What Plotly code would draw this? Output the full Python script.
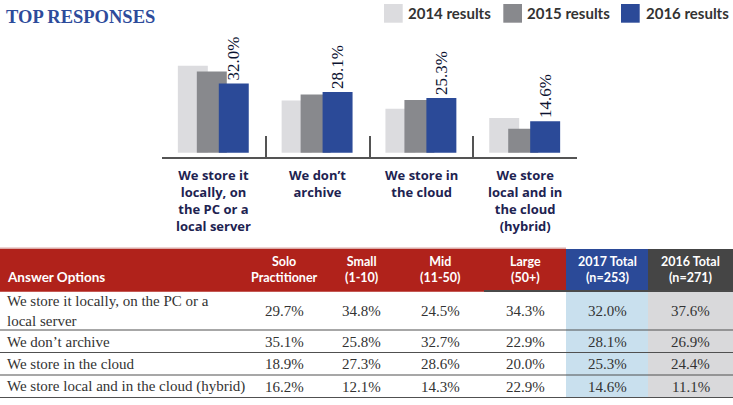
import plotly.graph_objects as go

W, H = 733, 405

# ---------------- data ----------------
categories = ["We store it<br>locally, on<br>the PC or a<br>local server",
              "We don’t<br>archive",
              "We store in<br>the cloud",
              "We store<br>local and in<br>the cloud<br>(hybrid)"]
series_names = ["2014 results", "2015 results", "2016 results"]
results_2014 = [40.3, 24.1, 20.3, 16.1]
results_2015 = [37.6, 26.9, 24.4, 11.1]
results_2016 = [32.0, 28.1, 25.3, 14.6]
series_colors = ["#dcdcdf", "#88898d", "#2b4a98"]

table_header = ["Answer Options", "Solo<br>Practitioner", "Small<br>(1-10)", "Mid<br>(11-50)",
                "Large<br>(50+)", "2017 Total<br>(n=253)", "2016 Total<br>(n=271)"]
answer_options = ["We store it locally, on the PC or a<br>local server",
                  "We don’t archive",
                  "We store in the cloud",
                  "We store local and in the cloud (hybrid)"]
solo = [29.7, 35.1, 18.9, 16.2]
small = [34.8, 25.8, 27.3, 12.1]
mid = [24.5, 32.7, 28.6, 14.3]
large = [34.3, 22.9, 20.0, 22.9]
total_2017 = [32.0, 28.1, 25.3, 14.6]
total_2016 = [37.6, 26.9, 24.4, 11.1]

# ---------------- layout helpers (pixels -> paper) ----------------
def px(x):
    return x / W

def py(y):
    return 1 - y / H

NAVY = "#1e2351"
HDR_FONT = "Lato, sans-serif"
LBL_FONT = "Lato, sans-serif"
CAT_FONT = "Open Sans, sans-serif"
SERIF = "Liberation Serif, serif"

fig = go.Figure()

xs = list(range(len(categories)))
bar_offsets = [-0.3465, -0.1636, 0.0481]
bar_width = 0.2887
for name, vals, col, off in zip(series_names, [results_2014, results_2015, results_2016],
                                series_colors, bar_offsets):
    is_last = name == series_names[-1]
    fig.add_trace(go.Bar(
        x=xs, y=vals, name=name, marker=dict(color=col, line=dict(width=0)),
        offset=off, width=bar_width, showlegend=False,
        texttemplate="%{y:.1f}%" if is_last else None,
        textposition="outside" if is_last else "none",
        textangle=-90, constraintext="none", cliponaxis=False,
        textfont=dict(family=SERIF, size=17, color="#0b1230"),
        hoverinfo="skip",
    ))

fig.update_layout(
    width=W, height=H, autosize=False,
    margin=dict(l=0, r=0, t=0, b=0),
    paper_bgcolor="white", plot_bgcolor="white",
    barmode="overlay",
    xaxis=dict(domain=[px(161.7), px(577.3)], range=[-0.502, 3.502],
               tickvals=[-0.5, 0.5, 1.5, 2.5, 3.5], ticktext=[""] * 5,
               ticks="inside", ticklen=21, tickwidth=1.5, tickcolor="#545454",
               showline=True, linecolor="#545454", linewidth=1.5,
               showgrid=False, zeroline=False, fixedrange=True),
    yaxis=dict(domain=[py(157.2), py(30)], range=[-2.1, 56.8], visible=False,
               showgrid=False, zeroline=False, fixedrange=True),
)

annotations = []
shapes = []

# title
annotations.append(dict(text="<b>TOP RESPONSES</b>", x=px(4), y=py(16.5), xref="paper", yref="paper",
                        xanchor="left", yanchor="middle", showarrow=False,
                        font=dict(family=SERIF, size=18.5, color="#2d4b9b")))

# legend
sw_left = [384, 503.3, 621]
txt_left = [406, 525, 644]
for name, col, sl, tl in zip(series_names, series_colors, sw_left, txt_left):
    shapes.append(dict(type="rect", xref="paper", yref="paper", x0=px(sl), x1=px(sl + 18.7),
                       y0=py(22.7), y1=py(4), fillcolor=col, line=dict(width=0)))
    annotations.append(dict(text=name, x=px(tl), y=py(13), xref="paper", yref="paper",
                            xanchor="left", yanchor="middle", showarrow=False,
                            font=dict(family=LBL_FONT, size=15, color="#333333", weight="bold")))

# category labels (one multi-line label per category, top anchored under the axis)
for i, cat in enumerate(categories):
    annotations.append(dict(text=cat, x=i, xref="x", y=py(164), yref="paper",
                            xanchor="center", yanchor="top", showarrow=False, align="center",
                            font=dict(family=CAT_FONT, size=13, color=NAVY, weight="bold")))

# ---------------- table ----------------
col_widths = [244, 80, 74, 86, 82, 82, 85]
col_edges = [0]
for w in col_widths:
    col_edges.append(col_edges[-1] + w)
hdr_top, hdr_bot = 249, 291
row_bounds = [291, 330, 352.5, 375, 397.5]
hdr_fills = ["#b0221b", "#2b4a98", "#454545"]
body_fills = ["#c9e0ee", "#d9d9db"]

# header backgrounds
shapes.append(dict(type="rect", xref="paper", yref="paper", x0=px(col_edges[0]), x1=px(col_edges[5]),
                   y0=py(hdr_bot + 0.7), y1=py(hdr_top), fillcolor=hdr_fills[0], line=dict(width=0)))
shapes.append(dict(type="rect", xref="paper", yref="paper", x0=px(col_edges[0]), x1=px(col_edges[5]),
                   y0=py(hdr_top), y1=py(hdr_top - 1.5), fillcolor="#dcaaa8", line=dict(width=0)))
for k, c in enumerate([5, 6]):
    shapes.append(dict(type="rect", xref="paper", yref="paper", x0=px(col_edges[c]), x1=px(col_edges[c + 1]),
                       y0=py(hdr_bot), y1=py(hdr_top), fillcolor=hdr_fills[k + 1], line=dict(width=0)))
    shapes.append(dict(type="rect", xref="paper", yref="paper", x0=px(col_edges[c]), x1=px(col_edges[c + 1]),
                       y0=py(row_bounds[-1]), y1=py(row_bounds[0]), fillcolor=body_fills[k], line=dict(width=0)))
shapes.append(dict(type="line", xref="paper", yref="paper", x0=px(col_edges[4]), x1=px(W),
                   y0=py(hdr_bot), y1=py(hdr_bot), line=dict(color="#4a4a4a", width=2)))
for yb in row_bounds[1:]:
    shapes.append(dict(type="line", xref="paper", yref="paper", x0=0, x1=1,
                       y0=py(yb), y1=py(yb), line=dict(color="#505050", width=1.2)))

# header text (bottom aligned)
for c, htxt in enumerate(table_header):
    if c == 0:
        xx, anc, fs = px(5), "left", 13.5
    else:
        xx, anc, fs = px((col_edges[c] + col_edges[c + 1]) / 2), "center", 12.5
    annotations.append(dict(text=htxt, x=xx, y=py(286.5), xref="paper", yref="paper",
                            xanchor=anc, yanchor="bottom", showarrow=False, align="center",
                            font=dict(family=HDR_FONT, size=fs, color="white", weight="bold")))

# body text
value_cols = [solo, small, mid, large, total_2017, total_2016]
for r, label in enumerate(answer_options):
    center = (row_bounds[r] + row_bounds[r + 1]) / 2 + 0.5
    annotations.append(dict(text=label, x=px(5), y=py(center), xref="paper", yref="paper",
                            xanchor="left", yanchor="middle", showarrow=False, align="left",
                            font=dict(family=SERIF, size=15, color="#333333")))
    for c, vals in enumerate(value_cols, start=1):
        annotations.append(dict(text=f"{vals[r]:.1f}%", x=px((col_edges[c] + col_edges[c + 1]) / 2),
                                y=py(center), xref="paper", yref="paper",
                                xanchor="center", yanchor="middle", showarrow=False,
                                font=dict(family=SERIF, size=15, color="#333333")))

fig.update_layout(annotations=annotations, shapes=shapes)
fig.write_html("out.html")
